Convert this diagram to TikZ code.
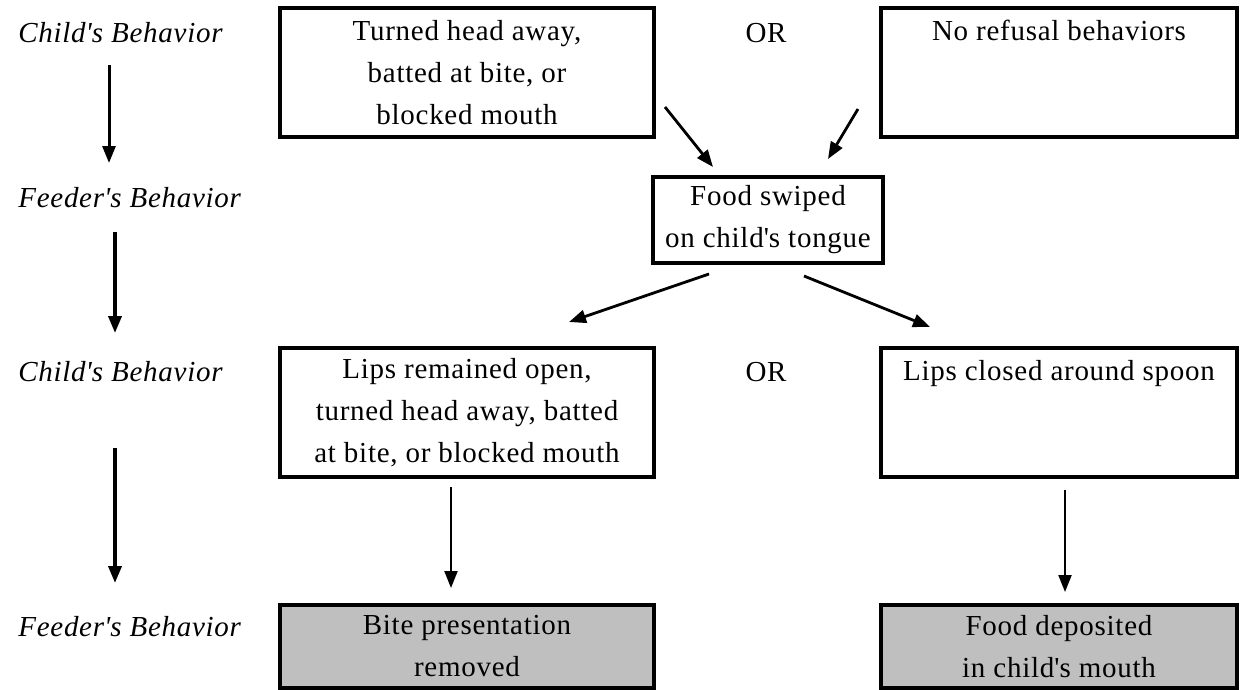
\documentclass[tikz,border=0pt]{standalone}
\usepackage{fontspec}
\setmainfont[LetterSpace=2.5]{Liberation Serif}
\usetikzlibrary{calc,arrows.meta}

\begin{document}
\begin{tikzpicture}[x=0.5pt,y=-0.5pt]
		\tikzstyle{every node}=[font=\fontsize{14.5}{21}\selectfont]
		\tikzstyle{box}=[draw, line width=1.6pt, inner sep=0pt, outer sep=0pt, align=center]
		\tikzstyle{wide}=[box, minimum width=187pt, minimum height=64.5pt]
		\tikzstyle{side}=[box, minimum width=178pt, minimum height=64.5pt]
		\tikzstyle{result}=[minimum height=41.5pt, fill=gray!50]
		\tikzstyle{lbl}=[anchor=west, inner sep=0pt]
		\tikzstyle{arr}=[-{Triangle[length=8.5pt,width=6.5pt]}]
		
		\useasboundingbox (0,0) rectangle (1241,690);
		
		\node[lbl] (child1) at (18,33) {\textit{Child\textquotesingle s Behavior}};
		\node[lbl] (feeder1) at (18,198) {\textit{Feeder\textquotesingle s Behavior}};
		\node[lbl] (child2) at (18,372) {\textit{Child\textquotesingle s Behavior}};
		\node[lbl] (feeder2) at (18,627) {\textit{Feeder\textquotesingle s Behavior}};
		
		\node[wide] (refuse) at (467,72.5) {Turned head away,\\ batted at bite, or\\ blocked mouth};
		\node (or1) at (766,33) {OR};
		\node[side] (norefuse) at (1059,72.5) {No refusal behaviors\\ \mbox{}\\ \mbox{}};
		
		\node[box, minimum width=115pt, minimum height=43pt] (swipe) at (768,220) {Food swiped\\ on child\textquotesingle s tongue};
		
		\node[wide] (open) at (467,412.5) {Lips remained open,\\ turned head away, batted\\ at bite, or blocked mouth};
		\node (or2) at (766,372) {OR};
		\node[side] (closed) at (1059,412.5) {Lips closed around spoon\\ \mbox{}\\ \mbox{}};
		
		\node[wide, result] (removed) at (467,646.5) {Bite presentation\\ removed};
		\node[side, result] (deposit) at (1059,646.5) {Food deposited\\ in child\textquotesingle s mouth};
		
		\coordinate (a1) at (109,65);  \coordinate (b1) at (109,163);
		\coordinate (a2) at (115,232); \coordinate (b2) at (115,333);
		\coordinate (a3) at (115,448); \coordinate (b3) at (115,583);
		
		\draw[arr, line width=1.5pt] (a1) -- (b1);
		\draw[arr, line width=1.8pt] (a2) -- (b2);
		\draw[arr, line width=1.8pt] (a3) -- (b3);
		
		\draw[arr, line width=1.4pt] ($(refuse.south east)+(11,-30)$) -- ($(swipe.north west)+(60,-10)$);
		\draw[arr, line width=1.4pt] ($(norefuse.south west)+(-23,-28)$) -- ($(swipe.north east)+(-55,-18)$);
		\draw[arr, line width=1.4pt] ($(swipe.south)+(-59,11)$) -- ($(open.north)+(102,-26)$);
		\draw[arr, line width=1.4pt] ($(swipe.south)+(36,13)$) -- ($(closed.north west)+(49,-21)$);
		
		\draw[arr, line width=1.1pt] ($(open.south)+(-16,10)$) -- ($(removed.north)+(-16,-17)$);
		\draw[arr, line width=1.1pt] ($(closed.south)+(6,13)$) -- ($(deposit.north)+(6,-13)$);
		
		\end{tikzpicture}
\end{document}
